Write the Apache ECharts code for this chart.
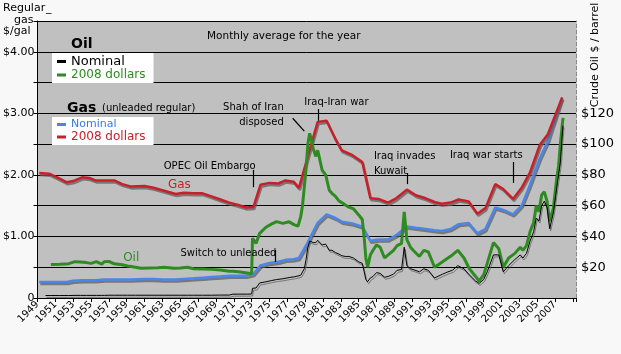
<!DOCTYPE html>
<html>
<head>
<meta charset="utf-8">
<script src="https://cdn.jsdelivr.net/npm/echarts/dist/echarts.min.js"></script>
<style>
  html, body { margin: 0; padding: 0; background: #f8f8f8; }
  #chart { width: 621px; height: 354px; }
</style>
</head>
<body>
<div id="chart"></div>
<script>
// base year for the x axis (ticks counted from 0 = 1949)
const baseYear = 1949

// gas, $/gal — sample dates
const gasYears = [1949.2, 1950.3, 1951.2, 1952.3, 1953.0, 1954.0, 1954.8, 1955.5, 1956.5, 1957.6,
  1958.5, 1959.5, 1961.0, 1962.0, 1963.0, 1964.5, 1965.4, 1966.5, 1967.5, 1968.5,
  1969.5, 1970.5, 1971.5, 1972.4, 1973.2, 1974.0, 1975.0, 1976.0, 1976.8, 1977.7,
  1978.3, 1979.2, 1980.4, 1981.4, 1982.4, 1983.1, 1984.3, 1985.4, 1986.3, 1987.2,
  1988.3, 1989.2, 1990.4, 1991.4, 1992.5, 1993.5, 1994.3, 1995.3, 1996.2, 1997.3,
  1998.3, 1999.2, 2000.3, 2001.2, 2002.3, 2003.3, 2004.2, 2005.3, 2006.2, 2007.8]
const gasNominal = [0.26, 0.26, 0.26, 0.26, 0.28, 0.29, 0.29, 0.29, 0.30, 0.30,
  0.30, 0.30, 0.31, 0.31, 0.30, 0.30, 0.31, 0.32, 0.33, 0.34,
  0.35, 0.36, 0.36, 0.36, 0.39, 0.53, 0.57, 0.59, 0.62, 0.63,
  0.65, 0.88, 1.22, 1.36, 1.30, 1.24, 1.21, 1.16, 0.93, 0.95,
  0.95, 1.02, 1.16, 1.14, 1.12, 1.10, 1.09, 1.12, 1.20, 1.22,
  1.05, 1.12, 1.47, 1.43, 1.36, 1.51, 1.84, 2.27, 2.55, 3.25]
const gasReal = [2.03, 2.02, 1.96, 1.88, 1.90, 1.96, 1.95, 1.91, 1.91, 1.91,
  1.85, 1.81, 1.82, 1.79, 1.75, 1.69, 1.71, 1.70, 1.70, 1.65,
  1.60, 1.55, 1.51, 1.47, 1.48, 1.84, 1.87, 1.86, 1.91, 1.89,
  1.79, 2.25, 2.86, 2.88, 2.58, 2.40, 2.32, 2.21, 1.62, 1.61,
  1.55, 1.62, 1.76, 1.67, 1.62, 1.56, 1.53, 1.55, 1.60, 1.57,
  1.37, 1.46, 1.85, 1.77, 1.61, 1.80, 2.04, 2.49, 2.66, 3.26]

// crude oil, $/barrel
const oilYears = [1949.9, 1950.5, 1951.5, 1952.5, 1953.2, 1953.8, 1954.5, 1955.0, 1955.6, 1956.2,
  1956.5, 1957.0, 1957.6, 1958.5, 1959.1, 1960.0, 1960.6, 1961.5, 1962.5, 1963.2,
  1964.3, 1965.0, 1965.8, 1966.5, 1967.5, 1968.5, 1969.5, 1970.5, 1970.9, 1971.5,
  1972.5, 1973.0, 1973.1, 1973.5, 1973.9, 1974.6, 1975.2, 1975.8, 1976.5, 1977.2,
  1977.8, 1978.2, 1978.5, 1978.7, 1978.9, 1979.1, 1979.3, 1979.5, 1979.7, 1979.9,
  1980.2, 1980.4, 1980.6, 1980.9, 1981.3, 1981.7, 1982.0, 1982.4, 1982.8, 1983.1,
  1983.5, 1983.9, 1984.4, 1985.0, 1985.4, 1985.6, 1985.8, 1986.0, 1986.3, 1986.6,
  1987.0, 1987.4, 1987.9, 1988.3, 1988.9, 1989.3, 1989.8, 1990.1, 1990.4, 1990.8,
  1991.1, 1991.8, 1992.3, 1992.8, 1993.5, 1994.4, 1995.0, 1995.5, 1996.1, 1996.8,
  1997.4, 1998.1, 1998.5, 1999.0, 1999.4, 2000.1, 2000.7, 2001.2, 2001.8, 2002.5,
  2003.1, 2003.4, 2003.8, 2004.2, 2004.6, 2004.9, 2005.2, 2005.5, 2005.8, 2006.1,
  2006.4, 2006.8, 2007.2, 2007.4, 2007.6, 2007.8, 2007.9]
const oilNominal = [1.6, 1.6, 1.6, 1.6, 1.7, 1.7, 1.7, 1.7, 1.7, 1.7,
  1.7, 1.8, 1.8, 1.8, 1.8, 1.8, 1.8, 1.8, 1.8, 1.8,
  1.8, 1.8, 1.8, 1.8, 1.8, 1.8, 1.9, 1.9, 2.5, 2.5,
  2.5, 2.6, 6.3, 6.5, 9.8, 10.5, 11.3, 12.0, 12.5, 13.3,
  13.8, 14.3, 14.8, 16.0, 19.0, 25.0, 33.0, 37.0, 36.5, 36.0,
  36.0, 37.5, 37.0, 34.5, 35.0, 31.0, 31.0, 29.5, 28.5, 27.5,
  27.0, 27.0, 26.0, 23.5, 22.5, 17.5, 12.0, 10.6, 13.0, 14.0,
  16.5, 16.0, 13.5, 14.0, 15.5, 18.0, 18.5, 33.0, 21.0, 19.0,
  18.5, 17.0, 19.0, 18.0, 13.0, 15.5, 17.0, 18.0, 21.0, 19.0,
  15.0, 11.0, 9.5, 12.0, 17.0, 28.0, 28.0, 17.0, 21.0, 25.0,
  28.0, 26.0, 29.0, 37.0, 43.0, 52.0, 50.0, 60.0, 63.0, 59.0,
  45.0, 55.0, 72.0, 80.0, 88.0, 105.0, 112.0]
const oilReal = [null, 21.8, 21.9, 22.3, 23.6, 23.4, 23.0, 22.5, 23.6, 22.0,
  23.6, 23.8, 22.2, 21.6, 20.8, 20.0, 19.3, 19.5, 19.6, 20.0,
  19.3, 19.5, 20.0, 19.0, 18.9, 18.6, 18.2, 17.4, 17.4, 17.0,
  16.2, 15.8, 38.8, 35.5, 42.0, 46.0, 48.0, 49.6, 48.5, 49.5,
  47.5, 46.8, 52.8, 60.0, 72.0, 84.0, 100.0, 107.0, 103.0, 97.0,
  92.0, 96.0, 91.0, 83.0, 80.0, 70.0, 68.0, 66.0, 63.0, 62.0,
  60.5, 59.0, 58.0, 54.0, 51.0, 40.0, 26.0, 20.0, 28.0, 31.0,
  34.5, 33.0, 26.0, 28.0, 31.0, 34.0, 35.5, 56.0, 38.0, 33.0,
  31.0, 27.0, 31.0, 30.0, 20.0, 23.6, 26.0, 28.0, 31.0, 26.0,
  19.0, 14.0, 11.0, 15.0, 22.5, 36.0, 32.0, 20.0, 26.0, 29.0,
  33.0, 31.0, 34.0, 43.0, 49.0, 60.0, 56.0, 67.0, 69.0, 63.0,
  50.0, 58.0, 78.0, 86.0, 100.0, 112.0, 117.0]

// annotations, positioned in data units (year, $/gal)
const notes = [
  { text: 'Monthly average for the year', year: 1976.6, gal: 4.26, pos: 'inside', size: 10.5 },
  { text: 'Shah of Iran\ndisposed', year: 1976.6, gal: 2.98, pos: 'left' },
  { text: 'Iraq-Iran war', year: 1982.5, gal: 3.17, pos: 'inside' },
  { text: 'OPEC Oil Embargo', year: 1968.3, gal: 2.14, pos: 'inside' },
  { text: 'Gas', year: 1964.9, gal: 1.84, pos: 'inside', color: '#c8202a', size: 12 },
  { text: 'Iraq invades\nKuwait', year: 1986.7, gal: 2.185, pos: 'right' },
  { text: 'Iraq war starts', year: 1999.3, gal: 2.31, pos: 'inside' },
  { text: 'Oil', year: 1959.5, gal: 0.65, pos: 'inside', color: '#2e8b22', size: 12 },
  { text: 'Switch to unleaded', year: 1970.4, gal: 0.73, pos: 'inside' }
]
const arrows = [
  [1977.6, 2.92, 1978.9, 2.71],
  [1980.5, 3.07, 1980.5, 2.88],
  [1973.2, 2.08, 1973.2, 1.80],
  [1990.4, 2.03, 1990.4, 1.85],
  [2002.3, 2.21, 2002.3, 1.87],
  [1975.7, 0.78, 1975.7, 0.585]
]

const font = 'DejaVu Sans'
const pair = (xs, ys) => xs.map((x, i) => [x - baseYear, ys[i]])
const shadow = { shadowColor: 'rgba(95,95,95,0.75)', shadowBlur: 0, shadowOffsetY: 2, shadowOffsetX: 1 }

const chart = echarts.init(document.getElementById('chart'))

chart.setOption({
  animation: false,
  backgroundColor: '#f8f8f8',
  textStyle: { fontFamily: font },
  grid: {
    left: 32, right: 45, top: 21, bottom: 56,
    show: true, backgroundColor: '#c0c0c0', borderWidth: 0
  },
  legend: [
    {
      orient: 'vertical', left: 52, top: 53,
      backgroundColor: '#fff', padding: [2, 8, 2, 5], itemGap: 1,
      itemWidth: 9, itemHeight: 3, icon: 'rect',
      selectedMode: false,
      formatter: n => n.replace(/^Oil /, ''),
      data: [
        { name: 'Oil Nominal', textStyle: { color: '#000', fontSize: 13 } },
        { name: 'Oil 2008 dollars', textStyle: { color: '#2e8b22', fontSize: 12 } }
      ]
    },
    {
      orient: 'vertical', left: 52, top: 117,
      backgroundColor: '#fff', padding: [2, 8, 2, 5], itemGap: 1,
      itemWidth: 9, itemHeight: 3, icon: 'rect',
      selectedMode: false,
      formatter: n => n.replace(/^Gas /, ''),
      data: [
        { name: 'Gas Nominal', textStyle: { color: '#3a78e0', fontSize: 11 } },
        { name: 'Gas 2008 dollars', textStyle: { color: '#c8202a', fontSize: 12 } }
      ]
    }
  ],
  xAxis: {
    type: 'value', min: 0, max: 60.35, interval: 2,
    axisLine: { lineStyle: { color: '#000' } },
    axisTick: { length: 4, lineStyle: { color: '#000' } },
    splitLine: { show: false },
    axisLabel: {
      rotate: 45, margin: 5, color: '#000', fontSize: 10,
      formatter: v => (v % 2 === 0 && v <= 58) ? String(baseYear + v) : ''
    }
  },
  yAxis: [
    {
      type: 'value', min: 0, max: 4.5, interval: 0.5,
      axisLine: { show: true, lineStyle: { color: '#000' } },
      axisTick: { show: true, length: 4, lineStyle: { color: '#000' } },
      splitLine: { lineStyle: { color: '#000', width: 1 } },
      axisLabel: {
        margin: 3, color: '#000', fontSize: 11,
        formatter: v => v === 0 ? '0' : (v % 1 === 0 ? '$' + v.toFixed(2) : '')
      }
    },
    {
      type: 'value', min: 0, max: 180, interval: 20, position: 'right',
      axisLine: { show: true, lineStyle: { color: '#888', type: 'dashed' } },
      axisTick: { show: false },
      splitLine: { show: false },
      axisLabel: {
        margin: 5, color: '#000', fontSize: 13,
        formatter: v => (v >= 20 && v <= 120) ? '$' + v : ''
      }
    }
  ],
  graphic: [
    { type: 'text', left: 3, top: 3, style: { text: 'Regular', font: '11px ' + font, fill: '#000' } },
    { type: 'text', left: 46, top: 3, style: { text: '_', font: '11px ' + font, fill: '#000' } },
    { type: 'text', left: 14, top: 15, style: { text: 'gas', font: '11px ' + font, fill: '#000' } },
    { type: 'text', left: 3, top: 26, style: { text: '$/gal', font: '11px ' + font, fill: '#000' } },
    { type: 'text', left: 71, top: 37, style: { text: 'Oil', font: 'bold 14px ' + font, fill: '#000' } },
    { type: 'text', left: 67, top: 101, style: { text: 'Gas', font: 'bold 14px ' + font, fill: '#000' } },
    { type: 'text', left: 102, top: 103, style: { text: '(unleaded regular)', font: '10px ' + font, fill: '#000' } },
    {
      type: 'text', x: 595, y: 55, rotation: Math.PI / 2,
      style: { text: 'Crude Oil $ / barrel', font: '11px ' + font, fill: '#000', align: 'center', verticalAlign: 'middle' }
    }
  ],
  series: [
    {
      name: 'Gas Nominal', type: 'line', showSymbol: false,
      data: pair(gasYears, gasNominal),
      itemStyle: { color: '#4a86e8' },
      lineStyle: Object.assign({ color: '#4a86e8', width: 2.5 }, shadow)
    },
    {
      name: 'Gas 2008 dollars', type: 'line', showSymbol: false,
      data: pair(gasYears, gasReal),
      itemStyle: { color: '#c8202a' },
      lineStyle: Object.assign({ color: '#c8202a', width: 2.5 }, shadow),
      markPoint: {
        z: 10, symbol: 'circle', symbolSize: 0, silent: true,
        label: { show: true, formatter: '{b}', color: '#000', fontSize: 10, distance: 0, lineHeight: 15 },
        data: notes.map(n => ({
          name: n.text,
          coord: [n.year - baseYear, n.gal],
          label: { position: n.pos, color: n.color || '#000', fontSize: n.size || 10 }
        }))
      },
      markLine: {
        z: 10, silent: true, symbol: ['none', 'arrow'], symbolSize: [0, 8],
        label: { show: false },
        lineStyle: { color: '#000', width: 1.2, type: 'solid' },
        data: arrows.map(a => [
          { coord: [a[0] - baseYear, a[1]] },
          { coord: [a[2] - baseYear, a[3]] }
        ])
      }
    },
    {
      name: 'Oil 2008 dollars', type: 'line', showSymbol: false, yAxisIndex: 1,
      data: pair(oilYears, oilReal),
      itemStyle: { color: '#2e8b22' },
      lineStyle: { color: '#2e8b22', width: 3 }
    },
    {
      name: 'Oil Nominal', type: 'line', showSymbol: false, yAxisIndex: 1,
      data: pair(oilYears, oilNominal),
      itemStyle: { color: '#000' },
      lineStyle: Object.assign({ color: '#000', width: 1 }, shadow)
    }
  ]
})
</script>
</body>
</html>
